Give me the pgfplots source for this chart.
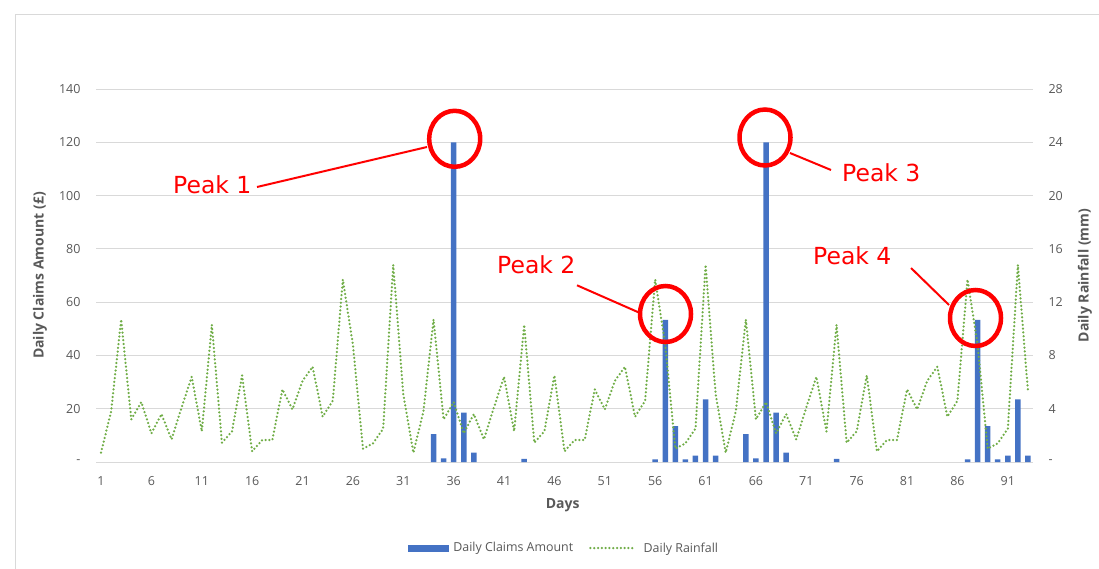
\documentclass[border=0pt]{standalone}
\usepackage{pgfplots}
\pgfplotsset{compat=1.18}
\usepackage{pgfplotstable}
\usepackage{fontspec}
\setmainfont{Open Sans}
\newfontfamily\peakfont{DejaVu Sans}

\definecolor{barblue}{HTML}{4472C4}
\definecolor{raingreen}{HTML}{70AD47}
\definecolor{gridgray}{HTML}{D9D9D9}
\definecolor{labelgray}{HTML}{595959}
\definecolor{peakred}{HTML}{FF0000}

% daily claims (only days with a claim)
\pgfplotstableread{
day claims
34 10.5
35 1.4
36 120
37 18.5
38 3.5
43 1.2
56 1
57 53.3
58 13.5
59 1
60 2.4
61 23.5
62 2.4
65 10.5
66 1.4
67 120
68 18.5
69 3.5
74 1.2
87 1
88 53.3
89 13.5
90 1
91 2.4
92 23.5
93 2.4
}\claims

\tikzset{raindots/.style={raingreen, line width=2.5pt, dash pattern=on 0pt off 3.8pt, line cap=round}}

\begin{document}
\begin{tikzpicture}[x=1pt,y=1pt]
\path[use as bounding box] (0,0) rectangle (1099,568);
\draw[gridgray, line width=0.8pt] (15,-5) -- (15,554) -- (1110,554);

\begin{axis}[
    at={(96pt,106pt)}, anchor=south west,
    scale only axis, width=937pt, height=373pt,
    xmin=0.5, xmax=93.5, ymin=0, ymax=140,
    axis line style={draw=none},
    major tick length=0pt,
    /pgf/number format/assume math mode=true,
    xtick={1,6,...,91},
    ytick={0,20,...,140},
    yticklabels={-,20,40,60,80,100,120,140},
    ymajorgrids, grid style={gridgray, line width=0.8pt},
    tick label style={font=\fontsize{12.5}{14}\selectfont, text=labelgray},
    xticklabel style={anchor=center, yshift=-19pt},
    yticklabel style={anchor=east, xshift=-12pt},
    xlabel={Days}, ylabel={Daily Claims Amount (£)},
    label style={font=\fontsize{14}{16}\selectfont\bfseries, text=labelgray},
    xlabel style={at={(axis description cs:0.498,-0.115)}, anchor=center},
    ylabel style={at={(axis description cs:-0.0598,0.5)}, anchor=center},
  ]
  \addplot[ybar, bar width=5.5pt, fill=barblue, draw=none] table[x=day, y=claims] {\claims};
\end{axis}

\begin{axis}[
    at={(96pt,106pt)}, anchor=south west,
    scale only axis, width=937pt, height=373pt,
    xmin=0.5, xmax=93.5, ymin=0, ymax=28,
    hide x axis,
    axis y line*=right,
    y axis line style={draw=none},
    major tick length=0pt,
    ytick={0,4,...,28},
    yticklabels={-,4,8,12,16,20,24,28},
    tick label style={font=\fontsize{12.5}{14}\selectfont, text=labelgray},
    yticklabel style={anchor=west, xshift=12pt},
    ylabel={Daily Rainfall (mm)},
    label style={font=\fontsize{14}{16}\selectfont\bfseries, text=labelgray},
    ylabel style={at={(axis description cs:1.0555,0.5)}, anchor=center},
    legend columns=2,
    legend style={at={(axis description cs:0.4995,-0.2306)}, anchor=center, draw=none,
      font=\fontsize{12.4}{14}\selectfont, text=labelgray,
      /tikz/every even column/.append style={column sep=14pt}},
  ]
  \addlegendimage{legend image code/.code={\fill[barblue] (0pt,-3pt) rectangle (40pt,3pt);
      \path (43pt,0pt);}}
  \addlegendentry{Daily Claims Amount}
  \addplot[raindots, legend image code/.code={\draw[raindots] (0pt,0pt) -- (44pt,0pt);
      \path (50pt,0pt);}] coordinates {
    (1,0.7) (2,3.8) (3,10.7) (4,3.2) (5,4.5) (6,2.15) (7,3.6) (8,1.7) (9,4.1) (10,6.4)
    (11,2.3) (12,10.3) (13,1.45) (14,2.3) (15,6.5) (16,0.8) (17,1.65) (18,1.65) (19,5.45) (20,3.95)
    (21,6.1) (22,7.15) (23,3.4) (24,4.6) (25,13.7) (26,8.8) (27,1.0) (28,1.4) (29,2.5) (30,14.8)
    (31,5.1)
    (32,0.7) (33,3.8) (34,10.7) (35,3.2) (36,4.5) (37,2.15) (38,3.6) (39,1.7) (40,4.1) (41,6.4)
    (42,2.3) (43,10.3) (44,1.45) (45,2.3) (46,6.5) (47,0.8) (48,1.65) (49,1.65) (50,5.45) (51,3.95)
    (52,6.1) (53,7.15) (54,3.4) (55,4.6) (56,13.7) (57,8.8) (58,1.0) (59,1.4) (60,2.5) (61,14.8)
    (62,5.1)
    (63,0.7) (64,3.8) (65,10.7) (66,3.2) (67,4.5) (68,2.15) (69,3.6) (70,1.7) (71,4.1) (72,6.4)
    (73,2.3) (74,10.3) (75,1.45) (76,2.3) (77,6.5) (78,0.8) (79,1.65) (80,1.65) (81,5.45) (82,3.95)
    (83,6.1) (84,7.15) (85,3.4) (86,4.6) (87,13.7) (88,8.8) (89,1.0) (90,1.4) (91,2.5) (92,14.8)
    (93,5.3)
  };
  \addlegendentry{Daily Rainfall}
\end{axis}

% peak annotations
\begin{scope}[peakred]
  \draw[line width=4.5pt] (454.7,429.2) ellipse [x radius=25.5, y radius=28];
  \draw[line width=4.5pt] (765,430.5) ellipse [x radius=25.5, y radius=28];
  \draw[line width=4.5pt] (665.5,254) ellipse [x radius=25.5, y radius=28];
  \draw[line width=4.5pt] (975.5,250) ellipse [x radius=25.5, y radius=28];
  \draw[line width=2pt] (257,381) -- (427,421);
  \draw[line width=2pt] (577,282.7) -- (640,255);
  \draw[line width=2pt] (790,415) -- (831,398);
  \draw[line width=2pt] (911,300) -- (949,263);
  \tikzset{peaklabel/.style={anchor=base west, inner sep=0pt, text=peakred,
      font=\peakfont\fontsize{23.5}{26}\selectfont}}
  \node[peaklabel] at (173,374) {Peak 1};
  \node[peaklabel] at (497,294.7) {Peak 2};
  \node[peaklabel] at (842,386.3) {Peak 3};
  \node[peaklabel] at (813,303) {Peak 4};
\end{scope}
\end{tikzpicture}
\end{document}
